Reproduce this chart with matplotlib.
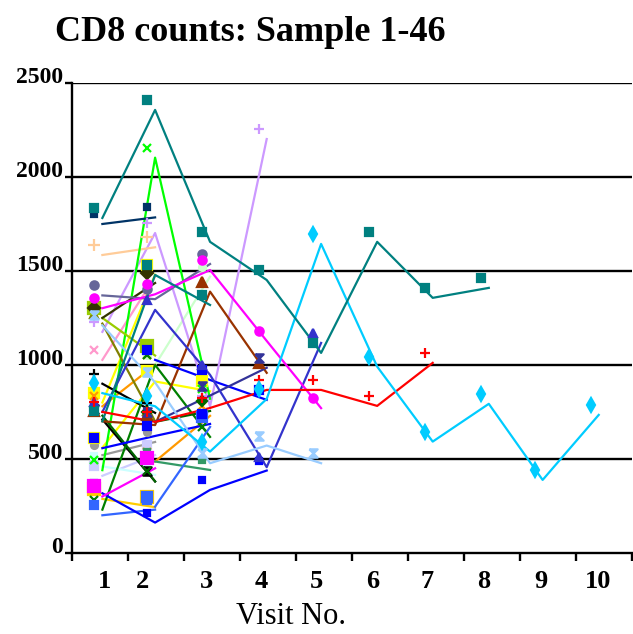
import numpy as np
import matplotlib
matplotlib.use("Agg")
import matplotlib.pyplot as plt
from matplotlib.transforms import offset_copy

nan = np.nan

# CD8 counts per visit (one list per sample shown)
teal = [1782, 2357, 1655, 1452, 1064, 1655, 1357, 1410]
teal2 = [700, 1479, 1319]
navy = [1750, 1785]
green = [440, 2103, 820]
lavender = [1176, 1702, 780, 2202]
peach = [1585, 1626]
magenta = [1302, 1376, 1505, 1128, 770]
magenta2 = [300, 450]
cyan = [850, 780, 539, 819, 1644, 991, 592, 793, 388, 734]
red = [750, 697, 771, 867, 867, 782, 1011]
blue_low = [317, 161, 335, 438]
blue_mid = [nan, 1027, 920, 814]
blue3 = [557, 622, 686]
royal = [200, 230]
royal2 = [nan, 246, 670]
brown = [700, 680, 1390, 958]
slate2 = [nan, 697, 837, 985]
yellow = [560, 912, 860]
yellow2 = [800, 1480]
gold = [287, 243]
orange = [nan, 486, 729]
orange2 = [780, 1000]
black = [710, 380]
black2 = [900, 745]
dkgreen = [230, 1000, 617]
dkgreen2 = [nan, 697, 755]
dkgreen3 = [730, 380]
dkolive = [1250, 1436]
olive = [1220, 700]
ygreen = [1250, 1050]
ltblue = [1210, 907, 477, 571, 477]
indigo = [750, 1293, 947, 456, 1117]
slate = [1370, 1350, 1537]
pink = [1027, 1470]
ltgreen = [nan, 1000, 1470]
seagreen = [nan, 486, 441]
gray = [520, 590]
ltcyan = [460, 415]
peri = [410, 520]

visit_labels = ["1", "2", "3", "4", "5", "6", "7", "8", "9", "10"]

hourglass = [(-1, 1), (1, 1), (-1, -1), (1, -1), (-1, 1)]

series = [
    (peri, "#CCCCFF", "s", 6),
    (ltcyan, "#CCFFFF", "s", 5),
    (gray, "#999999", "o", 5),
    (ltgreen, "#CCFFCC", "o", 5),
    (pink, "#FF99CC", "x", 6),
    (yellow2, "#FFFF00", "s", 7),
    (yellow, "#FFFF00", "s", 7),
    (gold, "#FFCC00", "s", 8),
    (orange2, "#FF9900", "x", 6),
    (orange, "#FF9900", "x", 6),
    (lavender, "#CC99FF", "+", 7),
    (peach, "#FFCC99", "+", 8),
    (green, "#00FF00", "x", 6),
    (olive, "#808000", "^", 6),
    (ygreen, "#99CC00", "s", 9),
    (dkolive, "#333300", "D", 6),
    (black, "#000000", hourglass, 6),
    (black2, "#000000", "+", 7),
    (dkgreen, "#008000", "x", 6),
    (dkgreen2, "#006600", "D", 5),
    (dkgreen3, "#006600", "x", 6),
    (seagreen, "#339966", "s", 5),
    (brown, "#993300", "^", 7),
    (royal, "#3366FF", "s", 6),
    (royal2, "#3366FF", "s", 7),
    (blue3, "#0000FF", "s", 6),
    (blue_mid, "#0000FF", "s", 6),
    (blue_low, "#0000FF", "s", 5),
    (slate2, "#333399", hourglass, 6),
    (indigo, "#3333CC", "^", 6),
    (slate, "#666699", "o", 6),
    (ltblue, "#99CCFF", hourglass, 6),
    (magenta2, "#FF00FF", "s", 9),
    (magenta, "#FF00FF", "o", 6),
    (teal2, "#008080", "s", 6),
    (navy, "#003366", "s", 5),
    (red, "#FF0000", "+", 7),
    (cyan, "#00CCFF", "d", 7),
    (teal, "#008080", "s", 6),
]

visit_pos = np.array([0.55, 1.49, 2.47, 3.48, 4.45, 5.45, 6.44, 7.44, 8.40, 9.40])

serif = "Liberation Serif"

fig = plt.figure(figsize=(6.33, 6.34), dpi=100)
ax = fig.add_axes([0.113, 0.128, 0.886, 0.741])

# markers sit a little up and left of the line vertices
mk_trans = offset_copy(ax.transData, fig=fig, x=-8, y=10, units="dots")

for vals, col, mk, ms in series:
    vals = np.array(vals, dtype=float)
    xs = visit_pos[:len(vals)]
    ax.plot(xs, vals, color=col, lw=1.6, zorder=3)
    ax.plot(xs, vals, ls="none", marker=mk, ms=ms, color=col,
            mec=col, mew=1.6, transform=mk_trans, zorder=4)

ax.set_xlim(0, 10)
ax.set_ylim(0, 2500)

for y in [500, 1000, 1500, 2000, 2500]:
    ax.axhline(y, color="black", lw=1.7, zorder=2)

for s in ["top", "right"]:
    ax.spines[s].set_visible(False)
ax.spines["left"].set_linewidth(1.7)
ax.spines["bottom"].set_linewidth(1.7)

ax.set_yticks([0, 500, 1000, 1500, 2000, 2500])
ax.tick_params(axis="y", direction="out", length=5, width=1.7, pad=1)
for lab in ax.get_yticklabels():
    lab.set_fontfamily(serif)
    lab.set_fontweight("bold")
    lab.set_fontsize(17)
    lab.set_verticalalignment("baseline")

ax.set_xticks(range(11))
ax.set_xticklabels([])
ax.tick_params(axis="x", which="major", direction="out", length=6, width=1.7)
ax.set_xticks([0.58, 1.27, 2.40, 3.38, 4.36, 5.37, 6.34, 7.35, 8.37, 9.38], minor=True)
ax.set_xticklabels(visit_labels, minor=True, fontfamily=serif,
                   fontweight="bold", fontsize=19)
ax.tick_params(axis="x", which="minor", length=0, pad=12)

fig.text(250 / 633, 1 - 41 / 634, "CD8 counts: Sample 1-46", ha="center",
         va="baseline", fontsize=26, fontweight="bold", fontfamily=serif)
fig.text(291 / 633, 3 / 634, "Visit No.", ha="center", va="bottom",
         fontsize=22, fontfamily=serif)

fig.savefig("out.png", dpi=100)
